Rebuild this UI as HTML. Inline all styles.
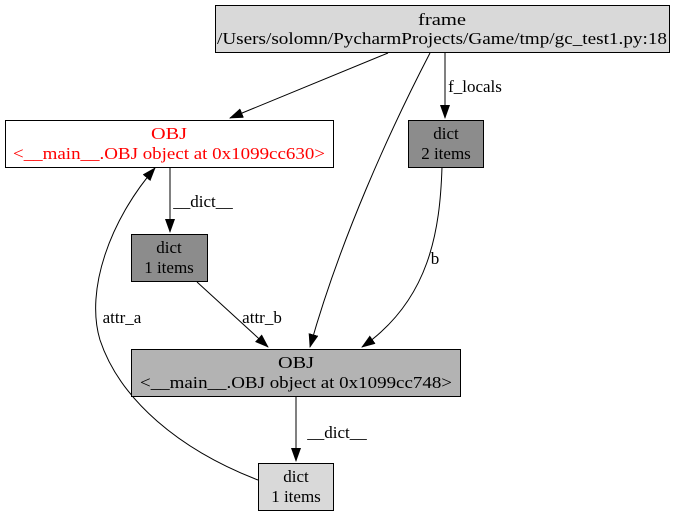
<!DOCTYPE html>
<html><head><meta charset="utf-8"><style>html,body{margin:0;padding:0;background:#fff}svg{display:block}</style></head>
<body>
<svg width="681" height="517" viewBox="0 0 681 517" xmlns="http://www.w3.org/2000/svg" font-family="Liberation Serif, serif" font-size="17" text-anchor="middle">
<defs><marker id="a" markerWidth="14" markerHeight="10" refX="13" refY="5" orient="auto" markerUnits="userSpaceOnUse"><path d="M0,0 L14,5 L0,10 z" fill="#000"/></marker></defs>
<g fill="none" stroke="#000" stroke-width="1">
<path d="M388,53 L230,118" marker-end="url(#a)"/>
<path d="M430,53 C390,130 340,240 310,347" marker-end="url(#a)"/>
<path d="M445,53 L445,118" marker-end="url(#a)"/>
<path d="M170,167 L170,232" marker-end="url(#a)"/>
<path d="M197,282 L268,347" marker-end="url(#a)"/>
<path d="M442,167 C440,230 430,300 362,347" marker-end="url(#a)"/>
<path d="M296,396 L296,461" marker-end="url(#a)"/>
<path d="M258,480 C180,450 120,400 100,340 C85,290 110,220 155,168" marker-end="url(#a)"/>
</g>
<g stroke="#000">
<rect x="215.5" y="5.5" width="454" height="47" fill="#d9d9d9"/>
<rect x="5.5" y="120.5" width="328" height="47" fill="#fff"/>
<rect x="408.5" y="120.5" width="75" height="47" fill="#8c8c8c"/>
<rect x="131.5" y="234.5" width="76" height="47" fill="#8c8c8c"/>
<rect x="131.5" y="349.5" width="329" height="47" fill="#b3b3b3"/>
<rect x="258.5" y="463.5" width="75" height="47" fill="#d9d9d9"/>
</g>
<text x="442" y="25" textLength="48" lengthAdjust="spacingAndGlyphs">frame</text>
<text x="442" y="44" textLength="450" lengthAdjust="spacingAndGlyphs">/Users/solomn/PycharmProjects/Game/tmp/gc_test1.py:18</text>
<text x="169" y="139" fill="#f00" textLength="36" lengthAdjust="spacingAndGlyphs">OBJ</text>
<text x="169" y="159" fill="#f00" textLength="312" lengthAdjust="spacingAndGlyphs">&lt;__main__.OBJ object at 0x1099cc630&gt;</text>
<text x="446" y="139">dict</text>
<text x="446" y="159">2 items</text>
<text x="169" y="253">dict</text>
<text x="169" y="273">1 items</text>
<text x="296" y="368" textLength="36" lengthAdjust="spacingAndGlyphs">OBJ</text>
<text x="296" y="388" textLength="312" lengthAdjust="spacingAndGlyphs">&lt;__main__.OBJ object at 0x1099cc748&gt;</text>
<text x="296" y="482">dict</text>
<text x="296" y="502">1 items</text>
<text x="475" y="92">f_locals</text>
<text x="203" y="207">__dict__</text>
<text x="262" y="323">attr_b</text>
<text x="435" y="264">b</text>
<text x="337" y="438">__dict__</text>
<text x="122" y="323">attr_a</text>
</svg>
</body></html>
